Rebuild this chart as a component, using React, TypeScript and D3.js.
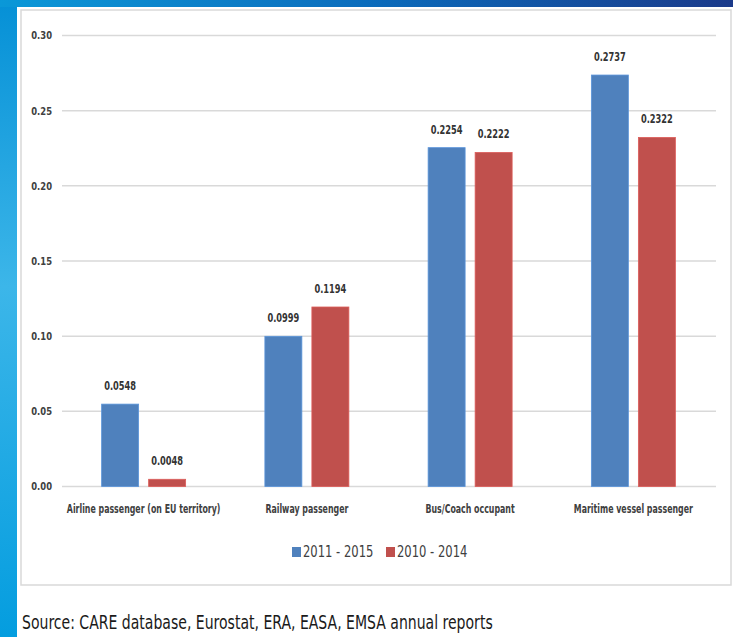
import { useEffect, useRef } from "react"
import * as d3 from "d3"

const categories = [
  "Airline passenger (on EU territory)",
  "Railway passenger",
  "Bus/Coach occupant",
  "Maritime vessel passenger",
]
const seriesNames = ["2011 - 2015", "2010 - 2014"]
const values2011 = [0.0548, 0.0999, 0.2254, 0.2737]
const values2010 = [0.0048, 0.1194, 0.2222, 0.2322]
const yTicks = [0, 0.05, 0.1, 0.15, 0.2, 0.25, 0.3]
const source = "Source: CARE database, Eurostat, ERA, EASA, EMSA annual reports"

const colors = ["#4f81bd", "#c0504d"]
const font = "'DejaVu Sans Condensed', 'Open Sans', sans-serif"

// Calibri-like look: squeeze the condensed font horizontally
function squeeze(sel: d3.Selection<SVGTextElement, unknown, null, undefined>, factor: number) {
  const node = sel.node()
  if (!node) return
  const len = node.getComputedTextLength()
  sel.attr("textLength", len * factor).attr("lengthAdjust", "spacingAndGlyphs")
}

export default function App() {
  const svgRef = useRef<SVGSVGElement>(null)
  const width = 733
  const height = 637

  useEffect(() => {
    if (!svgRef.current) return
    const svg = d3.select(svgRef.current)
    svg.selectAll("*").remove()

    // Background frame gradients
    const defs = svg.append("defs")
    const topGrad = defs.append("linearGradient").attr("id", "topGrad").attr("x1", "0%").attr("x2", "100%").attr("y1", "0%").attr("y2", "0%")
    topGrad.append("stop").attr("offset", "0%").attr("stop-color", "#0a98d8")
    topGrad.append("stop").attr("offset", "50%").attr("stop-color", "#0a6cbc")
    topGrad.append("stop").attr("offset", "100%").attr("stop-color", "#1b3a8a")
    const leftGrad = defs.append("linearGradient").attr("id", "leftGrad").attr("x1", "0%").attr("x2", "0%").attr("y1", "0%").attr("y2", "100%")
    leftGrad.append("stop").attr("offset", "0%").attr("stop-color", "#0590d6")
    leftGrad.append("stop").attr("offset", "45%").attr("stop-color", "#3cb6e9")
    leftGrad.append("stop").attr("offset", "100%").attr("stop-color", "#049ddf")

    svg.append("rect").attr("x", 0).attr("y", 0).attr("width", width).attr("height", height).attr("fill", "url(#leftGrad)")
    svg.append("rect").attr("x", 0).attr("y", 0).attr("width", width).attr("height", 7).attr("fill", "url(#topGrad)")
    svg.append("rect").attr("x", 17).attr("y", 7).attr("width", width - 17).attr("height", height - 7).attr("fill", "#ffffff")

    // Chart box
    svg.append("rect")
      .attr("x", 21).attr("y", 10).attr("width", 710).attr("height", 575)
      .attr("fill", "none").attr("stroke", "#d9d9d9").attr("stroke-width", 1.5)

    const x = d3.scaleBand().domain(categories).range([62, 715]).paddingInner(0).paddingOuter(0)
    const xInner = d3.scaleBand().domain(seriesNames).range([0, x.bandwidth()]).paddingInner(0.213).paddingOuter(0.843)
    const y = d3.scaleLinear().domain([0, 0.3]).range([486.5, 35.5])

    // Gridlines + y labels
    yTicks.forEach((t) => {
      svg.append("line")
        .attr("x1", 62).attr("x2", 716).attr("y1", y(t)).attr("y2", y(t))
        .attr("stroke", "#d9d9d9").attr("stroke-width", 1.5)
      const lbl = svg.append("text")
        .attr("x", 52).attr("y", y(t)).attr("dy", "0.35em")
        .attr("text-anchor", "end").attr("font-family", font).attr("font-size", 11).attr("font-weight", "bold")
        .attr("fill", "#404040").text(d3.format(".2f")(t))
      squeeze(lbl, 0.85)
    })

    const series = [values2011, values2010]
    series.forEach((vals, si) => {
      vals.forEach((v, ci) => {
        const bx = (x(categories[ci]) ?? 0) + (xInner(seriesNames[si]) ?? 0)
        svg.append("rect")
          .attr("x", bx).attr("y", y(v)).attr("width", xInner.bandwidth()).attr("height", y(0) - y(v))
          .attr("fill", colors[si]).attr("stroke", d3.color(colors[si])!.brighter(0.4).toString()).attr("stroke-width", 0.8)
        const lbl = svg.append("text")
          .attr("x", bx + xInner.bandwidth() / 2).attr("y", y(v) - 14)
          .attr("text-anchor", "middle").attr("font-family", font).attr("font-size", 11.5).attr("font-weight", "bold")
          .attr("fill", "#333333").text(d3.format(".4f")(v))
        squeeze(lbl, 0.8)
      })
    })

    // Category labels
    categories.forEach((c) => {
      const lbl = svg.append("text")
        .attr("x", (x(c) ?? 0) + x.bandwidth() / 2).attr("y", 513)
        .attr("text-anchor", "middle").attr("font-family", font).attr("font-size", 11.5).attr("font-weight", "bold")
        .attr("fill", "#404040").text(c)
      squeeze(lbl, 0.76)
    })

    // Legend
    const legendX = [292, 386]
    seriesNames.forEach((s, i) => {
      svg.append("rect").attr("x", legendX[i]).attr("y", 547).attr("width", 9).attr("height", 10).attr("fill", colors[i])
      const lbl = svg.append("text")
        .attr("x", legendX[i] + 11).attr("y", 552).attr("dy", "0.35em")
        .attr("font-family", font).attr("font-size", 15.5).attr("fill", "#404040").text(s)
      squeeze(lbl, 0.83)
    })

    // Source
    const src = svg.append("text")
      .attr("x", 22).attr("y", 629)
      .attr("font-family", font).attr("font-size", 19.5).attr("fill", "#1a1a1a").text(source)
    squeeze(src, 0.8)
  }, [])

  return (
    <div style={{ position: "absolute", left: 0, top: 0 }}>
      <svg ref={svgRef} width={width} height={height} style={{ display: "block" }} />
    </div>
  )
}
